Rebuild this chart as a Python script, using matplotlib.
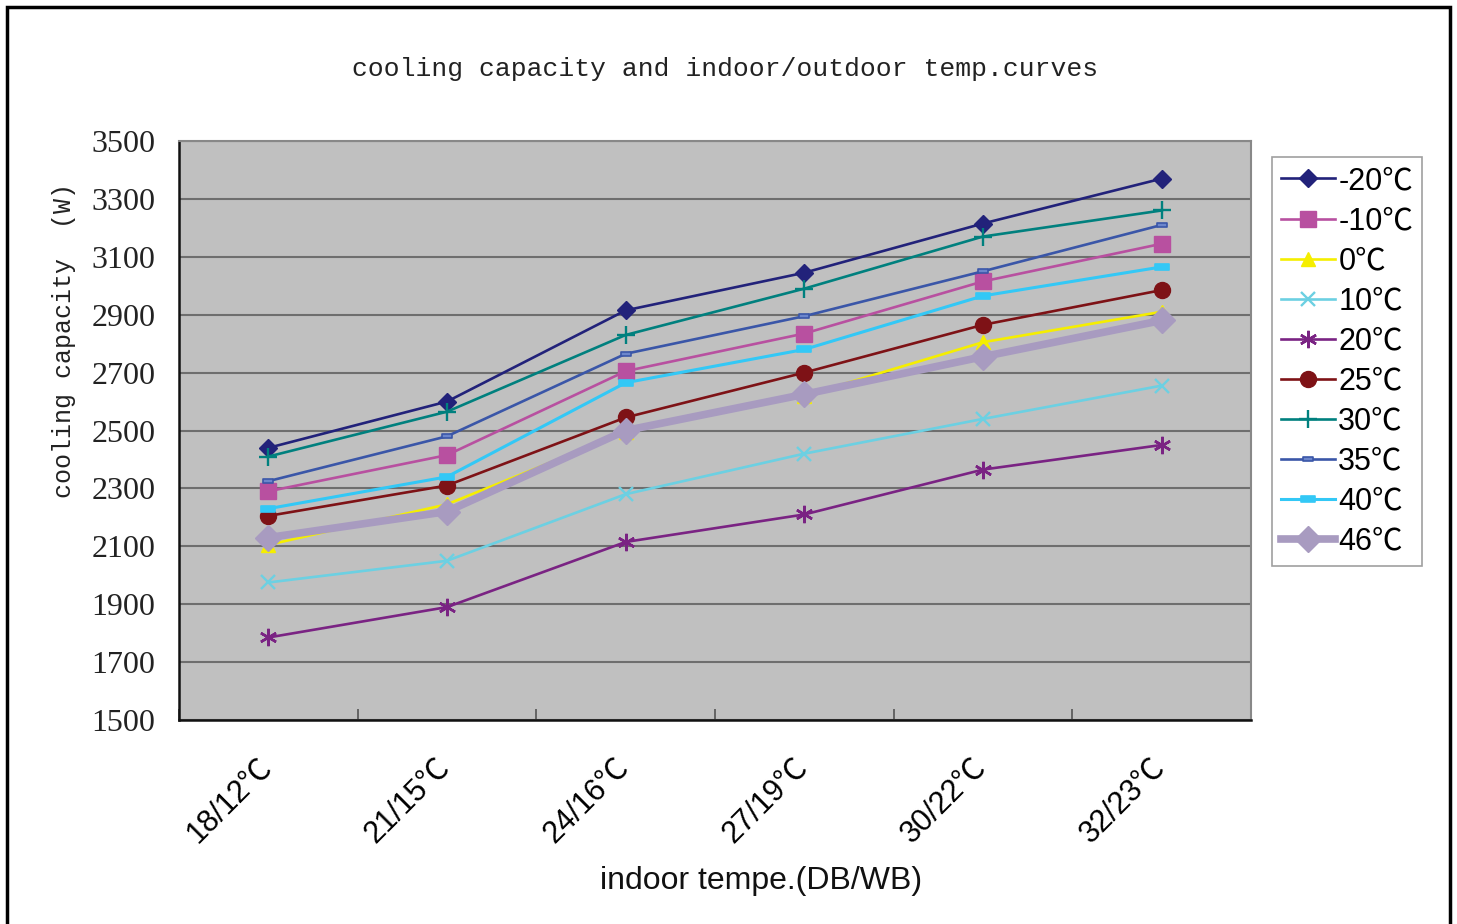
import matplotlib
matplotlib.use("Agg")
import matplotlib.pyplot as plt
from matplotlib.patches import Rectangle
from matplotlib.path import Path
from matplotlib.transforms import ScaledTranslation

# ---- data -------------------------------------------------------------
indoor_temps = ["18/12℃", "21/15℃", "24/16℃", "27/19℃", "30/22℃", "32/23℃"]
outdoor_labels = ["-20℃", "-10℃", "0℃", "10℃", "20℃", "25℃", "30℃", "35℃", "40℃", "46℃"]

cap_m20 = [2440, 2600, 2915, 3045, 3215, 3370]
cap_m10 = [2290, 2415, 2705, 2835, 3015, 3145]
cap_0 = [2105, 2245, 2495, 2620, 2805, 2910]
cap_10 = [1975, 2050, 2280, 2420, 2540, 2655]
cap_20 = [1785, 1890, 2115, 2210, 2365, 2450]
cap_25 = [2205, 2310, 2545, 2700, 2865, 2985]
cap_30 = [2410, 2565, 2830, 2990, 3170, 3260]
cap_35 = [2325, 2480, 2765, 2895, 3050, 3210]
cap_40 = [2230, 2340, 2665, 2780, 2965, 3065]
cap_46 = [2130, 2220, 2500, 2625, 2755, 2880]

y_ticks = [1500, 1700, 1900, 2100, 2300, 2500, 2700, 2900, 3100, 3300, 3500]

SANS_CJK = ["Liberation Sans", "Noto Sans CJK SC", "DejaVu Sans"]

# ---- figure -----------------------------------------------------------
W, H = 1457, 924
fig = plt.figure(figsize=(W / 100, H / 100), dpi=100)
fig.patch.set_facecolor("white")

ax = fig.add_axes([179 / W, 1 - 720 / H, 1072 / W, 579 / H])
ax.set_facecolor("#C0C0C0")

x = list(range(len(indoor_temps)))

# small rectangle markers (wide dash)
dash_small = Path([(-1, -0.5), (1, -0.5), (1, 0.5), (-1, 0.5), (-1, -0.5)],
                  [Path.MOVETO, Path.LINETO, Path.LINETO, Path.LINETO, Path.CLOSEPOLY])

series = [
    (cap_m20, dict(color="#22227A", marker="D", ms=9.5, lw=1.9)),
    (cap_m10, dict(color="#B850A0", marker="s", ms=11.5, lw=1.9)),
    (cap_0, dict(color="#F5EE00", marker="^", ms=10.5, lw=1.9)),
    (cap_10, dict(color="#6CD0E2", marker="x", ms=10.5, mew=1.7, lw=1.9)),
    (cap_20, dict(color="#7A2383", marker=(6, 2, 0), ms=12.5, mew=1.8, lw=1.9)),
    (cap_25, dict(color="#7E1216", marker="o", ms=11.5, lw=1.9)),
    (cap_30, dict(color="#00807E", marker="+", ms=13, mew=1.7, lw=1.9)),
    (cap_35, dict(color="#3A56A8", marker=dash_small, ms=7, mfc="#6C86CC", mew=1.2, lw=1.9)),
    (cap_40, dict(color="#33C8F6", marker=dash_small, ms=10, mew=1.2, lw=2.2)),
    (cap_46, dict(color="#A89BC0", marker="D", ms=13.5, lw=5.5)),
]

for (vals, style), lab in zip(series, outdoor_labels):
    mfc = style.pop("mfc", style["color"])
    ax.plot(x, vals, label=lab, mfc=mfc, mec=style["color"], **style)

ax.set_xlim(-0.5, len(indoor_temps) - 0.5)
ax.set_ylim(1500, 3500)
ax.set_yticks(y_ticks)
ax.yaxis.grid(True, color="#6E6E6E", lw=1.5)
ax.set_axisbelow(True)

# category boundaries carry the x ticks, labels sit at the centers
ax.set_xticks([i - 0.5 for i in range(len(indoor_temps) + 1)])
ax.set_xticklabels([])
ax.set_xticks(x, minor=True)
ax.set_xticklabels(indoor_temps, minor=True, rotation=45, ha="right", va="top",
                   fontsize=22, family=SANS_CJK)
ax.tick_params(axis="x", which="major", direction="in", length=8, width=1.2, color="#555555")
ax.tick_params(axis="x", which="minor", length=0, pad=23)
shift = ScaledTranslation(0.09, 0, fig.dpi_scale_trans)
for t in ax.xaxis.get_minorticklabels():
    t.set_transform(t.get_transform() + shift)

ax.tick_params(axis="y", length=0, pad=17)
for t in ax.get_yticklabels():
    t.set_fontfamily("Liberation Serif")
    t.set_fontsize(23)
    t.set_color("#222222")

for side in ("top", "right"):
    ax.spines[side].set_color("#888888")
    ax.spines[side].set_linewidth(1.5)
for side in ("left", "bottom"):
    ax.spines[side].set_color("#111111")
    ax.spines[side].set_linewidth(1.8)

# ---- texts -------------------------------------------------------------
fig.text(725 / W, 1 - 69 / H, "cooling capacity and indoor/outdoor temp.curves",
         ha="center", va="center", fontsize=19, family="Liberation Mono", color="#222222")
fig.text(64 / W, 1 - 341 / H, "cooling capacity  (W)", rotation=90,
         ha="center", va="center", fontsize=18, family="Liberation Mono", color="#222222")
fig.text(761 / W, 1 - 881 / H, "indoor tempe.(DB/WB)",
         ha="center", va="center", fontsize=23, family="Liberation Sans", color="#111111")

# ---- legend -----------------------------------------------------------
leg = fig.legend(loc="upper left", bbox_to_anchor=(1272 / W, 1 - 157 / H),
                 bbox_transform=fig.transFigure, frameon=True, fancybox=False,
                 prop={"family": SANS_CJK, "size": 22},
                 handlelength=1.75, handletextpad=0.12, labelspacing=0.33,
                 borderpad=0.3, borderaxespad=0)
leg.get_frame().set_edgecolor("#888888")
leg.get_frame().set_linewidth(1.2)

# ---- outer frame ----------------------------------------------------------
fig.patches.append(Rectangle((7 / W, -0.02), (1450 - 7) / W, 1.02 - 7 / H,
                             transform=fig.transFigure, fill=False,
                             edgecolor="black", linewidth=2.5))

fig.savefig("out.png", dpi=100, facecolor="white")
